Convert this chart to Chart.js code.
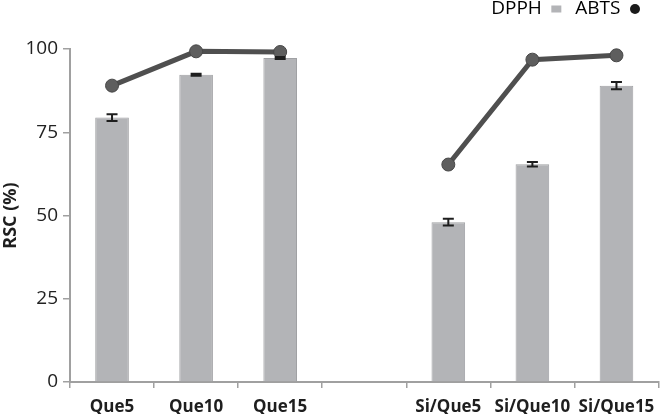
<!DOCTYPE html>
<html>
<head>
<meta charset="utf-8">
<script src="https://cdn.jsdelivr.net/npm/chart.js@4"></script>
<style>
  html, body { margin: 0; padding: 0; background: #fff; }
  #wrap { width: 666px; height: 414px; }
</style>
</head>
<body>
<div id="wrap"><canvas id="rsc-chart"></canvas></div>
<script>
// --- data ---
const labels = ['Que5', 'Que10', 'Que15', '', 'Si/Que5', 'Si/Que10', 'Si/Que15'];
const dpph = [79.4, 92.3, 97.3, null, 48.0, 65.4, 89.0];
const dpphErr = [1.0, 0.3, 0.3, null, 1.0, 0.7, 1.1];
const abts = [89.0, 99.3, 99.1, null, 65.3, 96.8, 98.1];
const yTicks = [0, 25, 50, 75, 100];

const FONT = "'Open Sans', 'DejaVu Sans', sans-serif";
const BAR_FILL = '#b3b4b7';
const LINE_COL = '#4f4f4f';

// draws the DPPH error bars
const errorBars = {
    id: 'errorBars',
    afterDatasetsDraw(chart) {
        const meta = chart.getDatasetMeta(0);
        const y = chart.scales.y;
        const ctx = chart.ctx;
        ctx.save();
        ctx.strokeStyle = '#1e1e1e';
        ctx.lineWidth = 2;
        meta.data.forEach((bar, i) => {
            if (dpph[i] == null) return;
            const top = y.getPixelForValue(dpph[i] + dpphErr[i]);
            const bot = y.getPixelForValue(dpph[i] - dpphErr[i]);
            const x = bar.x;
            ctx.beginPath();
            ctx.moveTo(x, top); ctx.lineTo(x, bot);
            ctx.moveTo(x - 5.5, top); ctx.lineTo(x + 5.5, top);
            ctx.moveTo(x - 5.5, bot); ctx.lineTo(x + 5.5, bot);
            ctx.stroke();
        });
        ctx.restore();
    }
};

// nudge the legend up and a bit in from the right edge
const legendShift = {
    id: 'legendShift',
    afterLayout(chart) {
        const lg = chart.legend;
        if (!lg) return;
        lg.left -= 9; lg.right -= 9;
        lg.top -= 20.5; lg.bottom -= 20.5;
    }
};

const ctx = document.getElementById('rsc-chart').getContext('2d');
const chart = new Chart(ctx, {
    type: 'bar',
    data: {
        labels: labels,
        datasets: [
            {
                label: 'DPPH',
                data: dpph,
                backgroundColor: BAR_FILL,
                borderColor: '#a0a1a4',
                borderWidth: 1,
                categoryPercentage: 1,
                barPercentage: 0.40,
                order: 2
            },
            {
                type: 'line',
                label: 'ABTS',
                data: abts,
                borderColor: LINE_COL,
                borderWidth: 5,
                pointRadius: 6.5,
                pointBackgroundColor: '#5e5e5e',
                pointBorderColor: '#474747',
                pointBorderWidth: 1,
                spanGaps: false,
                clip: false,
                order: 1
            }
        ]
    },
    options: {
        responsive: true,
        maintainAspectRatio: false,
        animation: false,
        layout: { padding: { left: 0, right: 3, top: 6, bottom: 0 } },
        plugins: {
            tooltip: { enabled: false },
            legend: {
                position: 'top',
                align: 'start',
                rtl: true,
                labels: {
                    color: '#222',
                    font: { family: FONT, size: 19 },
                    usePointStyle: true,
                    pointStyleWidth: 10,
                    boxHeight: 7.07,
                    padding: 14,
                    generateLabels: () => [
                        { text: 'ABTS', fillStyle: '#1a1a1a', strokeStyle: '#1a1a1a', lineWidth: 0, pointStyle: 'circle', datasetIndex: 1 },
                        { text: 'DPPH', fillStyle: BAR_FILL, strokeStyle: BAR_FILL, lineWidth: 0, pointStyle: 'rect', datasetIndex: 0 }
                    ]
                }
            }
        },
        scales: {
            x: {
                offset: true,
                grid: { offset: true, drawOnChartArea: false, drawTicks: true, tickLength: 6, color: '#a0a0a0', lineWidth: 1.5 },
                border: { color: '#a0a0a0', width: 2 },
                ticks: { color: '#1e1e1e', font: { family: FONT, size: 17, weight: 'bold' }, padding: 9, maxRotation: 0, autoSkip: false },
                afterFit: (s) => { s.height = 32; }
            },
            y: {
                min: 0,
                max: 100,
                afterBuildTicks: (s) => { s.ticks = yTicks.map(v => ({ value: v })); },
                grid: { drawOnChartArea: false, drawTicks: true, tickLength: 7, color: '#a0a0a0', lineWidth: 1.5 },
                border: { color: '#a0a0a0', width: 2 },
                ticks: { color: '#222', font: { family: FONT, size: 19 }, padding: 5 },
                title: { display: true, text: 'RSC (%)', color: '#1e1e1e', font: { family: FONT, size: 18, weight: 'bold' }, padding: 0 },
                afterFit: (s) => { s.width = 70; }
            }
        }
    },
    plugins: [errorBars, legendShift]
});
</script>
</body>
</html>
